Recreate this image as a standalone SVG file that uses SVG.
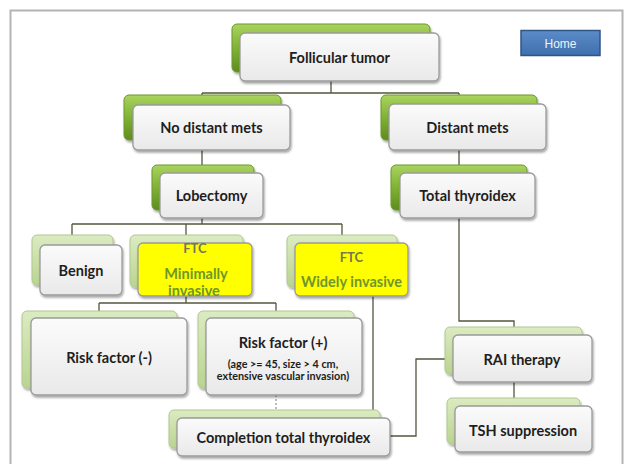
<svg xmlns="http://www.w3.org/2000/svg" width="626" height="464" viewBox="0 0 626 464">
  <defs>
    <linearGradient id="gDeep" x1="0" y1="0" x2="0" y2="1">
      <stop offset="0" stop-color="#a9d35f"/>
      <stop offset="0.5" stop-color="#80b234"/>
      <stop offset="1" stop-color="#5e8c1f"/>
    </linearGradient>
    <linearGradient id="gPale" x1="0" y1="0" x2="0" y2="1">
      <stop offset="0" stop-color="#dcebc2"/>
      <stop offset="1" stop-color="#b9d48f"/>
    </linearGradient>
    <linearGradient id="gCard" x1="0" y1="0" x2="0" y2="1">
      <stop offset="0" stop-color="#fbfbfb"/>
      <stop offset="1" stop-color="#e9e9e9"/>
    </linearGradient>
    <linearGradient id="gHome" x1="0" y1="0" x2="0" y2="1">
      <stop offset="0" stop-color="#5b8cc8"/>
      <stop offset="1" stop-color="#3f6fae"/>
    </linearGradient>
    <filter id="shadow" x="-10%" y="-10%" width="125%" height="135%">
      <feDropShadow dx="1" dy="2" stdDeviation="1.3" flood-color="#000" flood-opacity="0.35"/>
    </filter>
  </defs>
  <style>
    .deep { fill: url(#gDeep); stroke: #6a9a2a; stroke-width: 1; filter: url(#shadow); }
    .pale { fill: url(#gPale); stroke: #b0c890; stroke-width: 1; filter: url(#shadow); }
    .card { fill: url(#gCard); stroke: #9a9a9a; stroke-width: 1.3; filter: url(#shadow); }
    .hi { fill: #ffff00; stroke: #9a9a9a; stroke-width: 1.3; filter: url(#shadow); }
    .lbl { font-family: Lato, "Open Sans", "Liberation Sans", sans-serif; font-weight: bold; font-size: 14.5px; fill: #1e1e1e; text-anchor: middle; dominant-baseline: central; }
    .small { font-size: 10.8px; }
    .ftc { font-size: 13px; fill: #767650; }
    .grn { fill: #6f962c; }
    .wire { fill: none; stroke: #55553f; stroke-width: 1.3; }
    .dots { fill: none; stroke: #9a9a9a; stroke-width: 1.3; stroke-dasharray: 2 2; }
  </style>

  <rect width="626" height="464" fill="#ffffff"/>
  <!-- page frame -->
  <rect x="10.5" y="10.5" width="612" height="470" fill="none" stroke="#b4b4b4" stroke-width="2"/>

  <!-- connectors -->
  <g id="connectors">
    <path class="wire" d="M331,81 V93 M202,93 H459 M202,93 V95 M459,93 V95"/>
    <path class="wire" d="M202,150 V165 M459,150 V165"/>
    <path class="wire" d="M202,218 V224 M72,224 H342 M72,224 V235 M186,224 V235 M342,224 V235"/>
    <path class="wire" d="M186,296 V303 M99,303 H276 M99,303 V311 M276,303 V311"/>
    <path class="dots" d="M276,395 V410"/>
    <path class="wire" d="M373,296 V410"/>
    <path class="wire" d="M390,436 H416 V359 H445"/>
    <path class="wire" d="M459,218 V321 H514 V327"/>
    <path class="wire" d="M514,382 V398"/>
  </g>

  <g id="follicular-tumor">
    <rect class="deep" x="232" y="24" width="198" height="48" rx="5"/>
    <rect class="card" x="240" y="33" width="199" height="48" rx="5"/>
    <text class="lbl" x="339.5" y="57">Follicular tumor</text>
  </g>

  <g id="no-distant-mets">
    <rect class="deep" x="124" y="95" width="157" height="45" rx="5"/>
    <rect class="card" x="133" y="105" width="157" height="45" rx="5"/>
    <text class="lbl" x="211.5" y="127.5">No distant mets</text>
  </g>

  <g id="distant-mets">
    <rect class="deep" x="381" y="95" width="156" height="45" rx="5"/>
    <rect class="card" x="389" y="104" width="157" height="46" rx="5"/>
    <text class="lbl" x="467.5" y="127">Distant mets</text>
  </g>

  <g id="lobectomy">
    <rect class="deep" x="152" y="165" width="102" height="45" rx="5"/>
    <rect class="card" x="160" y="173" width="103" height="45" rx="5"/>
    <text class="lbl" x="211.5" y="195.5">Lobectomy</text>
  </g>

  <g id="total-thyroidex">
    <rect class="deep" x="391" y="165" width="136" height="45" rx="5"/>
    <rect class="card" x="400" y="173" width="135" height="45" rx="5"/>
    <text class="lbl" x="467.5" y="195.5">Total thyroidex</text>
  </g>

  <g id="benign">
    <rect class="pale" x="32" y="235" width="81" height="50" rx="5"/>
    <rect class="card" x="40" y="245" width="82" height="50" rx="5"/>
    <text class="lbl" x="81" y="270">Benign</text>
  </g>

  <g id="ftc-minimally-invasive">
    <rect class="pale" x="130" y="235" width="113" height="52" rx="5"/>
    <rect class="hi" x="138" y="243" width="114" height="53" rx="5"/>
    <text class="lbl ftc" x="195" y="248">FTC</text>
    <text class="lbl grn" x="196" y="273">Minimally</text>
    <text class="lbl grn" x="194" y="290">invasive</text>
  </g>

  <g id="ftc-widely-invasive">
    <rect class="pale" x="287" y="235" width="110" height="52" rx="5"/>
    <rect class="hi" x="295" y="243" width="113" height="53" rx="5"/>
    <text class="lbl ftc" x="351.5" y="257">FTC</text>
    <text class="lbl grn" x="351.5" y="281">Widely invasive</text>
  </g>

  <g id="risk-factor-negative">
    <rect class="pale" x="22" y="311" width="155" height="77" rx="5"/>
    <rect class="card" x="31" y="318" width="156" height="77" rx="5"/>
    <text class="lbl" x="109" y="357">Risk factor (-)</text>
  </g>

  <g id="risk-factor-positive">
    <rect class="pale" x="198" y="311" width="156" height="77" rx="5"/>
    <rect class="card" x="206" y="318" width="156" height="77" rx="5"/>
    <text class="lbl" x="283" y="342">Risk factor (+)</text>
    <text class="lbl small" x="283" y="363">(age &gt;= 45, size &gt; 4 cm,</text>
    <text class="lbl small" x="283" y="375">extensive vascular invasion)</text>
  </g>

  <g id="completion-total-thyroidex">
    <rect class="pale" x="169" y="410" width="211" height="38" rx="5"/>
    <rect class="card" x="177" y="418" width="213" height="38" rx="5"/>
    <text class="lbl" x="283.5" y="437">Completion total thyroidex</text>
  </g>

  <g id="rai-therapy">
    <rect class="pale" x="445" y="327" width="137" height="47" rx="5"/>
    <rect class="card" x="453" y="335" width="139" height="47" rx="5"/>
    <text class="lbl" x="522" y="359">RAI therapy</text>
  </g>

  <g id="tsh-suppression">
    <rect class="pale" x="447" y="398" width="133" height="46" rx="5"/>
    <rect class="card" x="455" y="406" width="137" height="46" rx="5"/>
    <text class="lbl" x="523" y="430">TSH suppression</text>
  </g>

  <g id="home-button">
    <rect x="521" y="30.5" width="79" height="25" fill="url(#gHome)" stroke="#2f5486" stroke-width="1.5"/>
    <text x="560.5" y="43.5" font-family="'Liberation Sans', Arial, sans-serif" font-size="12" fill="#eef3fa" text-anchor="middle" dominant-baseline="central">Home</text>
  </g>
</svg>
